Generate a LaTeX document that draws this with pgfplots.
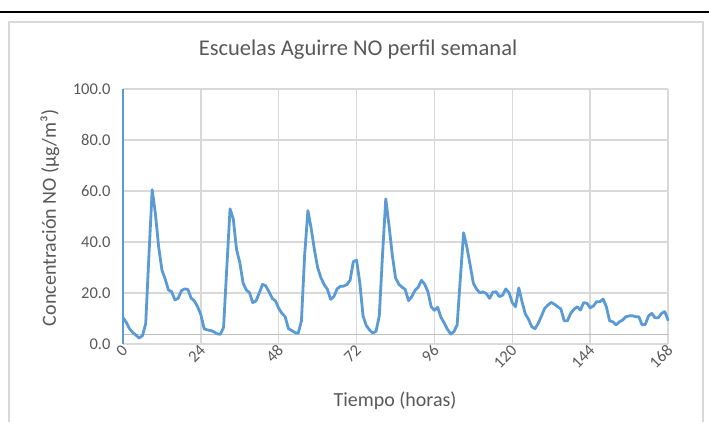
\documentclass[border=0pt]{standalone}
\usepackage{fontspec}
\setmainfont{Carlito}
\usepackage{pgfplots}
\usepackage{pgfplotstable}
\pgfplotsset{compat=1.18}

\definecolor{lineblue}{HTML}{5B9BD5}
\definecolor{txtgray}{HTML}{595959}
\definecolor{gridgray}{HTML}{D9D9D9}
\definecolor{basegray}{HTML}{BFBFBF}

% Hourly NO concentration over one week (µg/m3)
\pgfplotstableread{
h v
0 10.3
1 8.5
2 6.0
3 4.5
4 3.5
5 2.3
6 3.3
7 8.0
8 35.0
9 60.5
10 51.0
11 38.0
12 29.0
13 25.5
14 21.2
15 20.5
16 17.3
17 17.9
18 20.9
19 21.6
20 21.4
21 18.0
22 16.9
23 14.6
24 11.5
25 6.0
26 5.5
27 5.3
28 4.8
29 4.0
30 3.8
31 6.5
32 30.0
33 53.0
34 49.0
35 37.0
36 32.0
37 24.0
38 21.2
39 20.1
40 16.2
41 16.9
42 20.0
43 23.4
44 22.8
45 20.5
46 17.9
47 16.9
48 14.0
49 12.0
50 10.7
51 6.0
52 5.3
53 4.5
54 4.2
55 9.0
56 35.0
57 52.3
58 45.4
59 37.0
60 30.0
61 26.0
62 23.3
63 21.5
64 17.5
65 18.6
66 21.6
67 22.6
68 22.7
69 23.3
70 25.0
71 32.3
72 32.9
73 24.0
74 11.0
75 7.2
76 5.5
77 4.3
78 5.0
79 11.0
80 35.0
81 56.9
82 46.5
83 35.0
84 26.0
85 23.5
86 22.3
87 21.4
88 17.0
89 18.5
90 21.0
91 22.3
92 25.0
93 23.4
94 20.5
95 14.6
96 13.2
97 14.4
98 10.5
99 8.3
100 5.8
101 3.9
102 4.8
103 7.5
104 26.0
105 43.6
106 38.0
107 31.0
108 23.8
109 21.5
110 20.1
111 20.4
112 19.8
113 17.9
114 20.3
115 20.5
116 18.6
117 19.1
118 21.6
119 20.1
120 16.2
121 14.6
122 22.0
123 16.6
124 11.8
125 9.7
126 6.8
127 6.0
128 8.1
129 11.0
130 14.0
131 15.3
132 16.3
133 15.6
134 14.6
135 13.7
136 9.1
137 9.1
138 12.0
139 13.6
140 14.6
141 13.3
142 16.2
143 16.0
144 14.2
145 14.9
146 16.6
147 16.6
148 17.6
149 14.6
150 9.1
151 8.7
152 7.5
153 8.7
154 9.4
155 10.7
156 11.0
157 11.1
158 10.7
159 10.7
160 7.5
161 7.7
162 11.0
163 12.0
164 10.3
165 10.3
166 12.0
167 12.7
168 9.4
}\noconc

\begin{document}
\begin{tikzpicture}[x=1pt,y=1pt]
% page background, rule above and chart frame
\fill[white] (0,0) rectangle (709,421);
\draw[black, line width=2.6pt] (0,409) -- (709,409);
\draw[gridgray, line width=1.3pt] (9,-5) -- (9,399) -- (703,399) -- (703,-5);

% title and axis titles
\node[text=txtgray, font=\fontsize{22.5}{26}\selectfont] at (358,371) {Escuelas Aguirre NO perfil semanal};
\node[text=txtgray, font=\fontsize{20}{24}\selectfont, rotate=90] at (50,203) {Concentración NO (µg/m³)};
\node[text=txtgray, font=\fontsize{20}{24}\selectfont] at (395,20) {Tiempo (horas)};

\begin{axis}[
  at={(123pt,77pt)}, anchor=south west,
  scale only axis, width=545pt, height=255pt,
  xmin=0, xmax=168, ymin=0, ymax=100,
  xtick={0,24,...,168}, ytick={0,20,...,100},
  major tick length=0pt,
  axis line style={draw=none},
  grid=major,
  major grid style={gridgray, line width=1.3pt},
  clip=false,
  /pgf/number format/assume math mode=true,
  ticklabel style={text=txtgray, font=\fontsize{16.5}{19}\selectfont},
  yticklabel style={/pgf/number format/fixed, /pgf/number format/fixed zerofill, /pgf/number format/precision=1, xshift=-9pt},
  xticklabel style={rotate=45, anchor=east, yshift=-4pt, xshift=2pt},
]
% horizontal axis line
\draw[basegray, line width=1.5pt] (axis cs:0,3.8) -- (axis cs:168,3.8);
% vertical axis line
\draw[lineblue, line width=2.4pt] (axis cs:0,0) -- (axis cs:0,100);
\addplot[lineblue, line width=2.8pt, no markers, line join=round, line cap=round] table[x=h, y=v] {\noconc};
\end{axis}
\pgfresetboundingbox
\path[use as bounding box] (0,0) rectangle (709,421);
\end{tikzpicture}
\end{document}
